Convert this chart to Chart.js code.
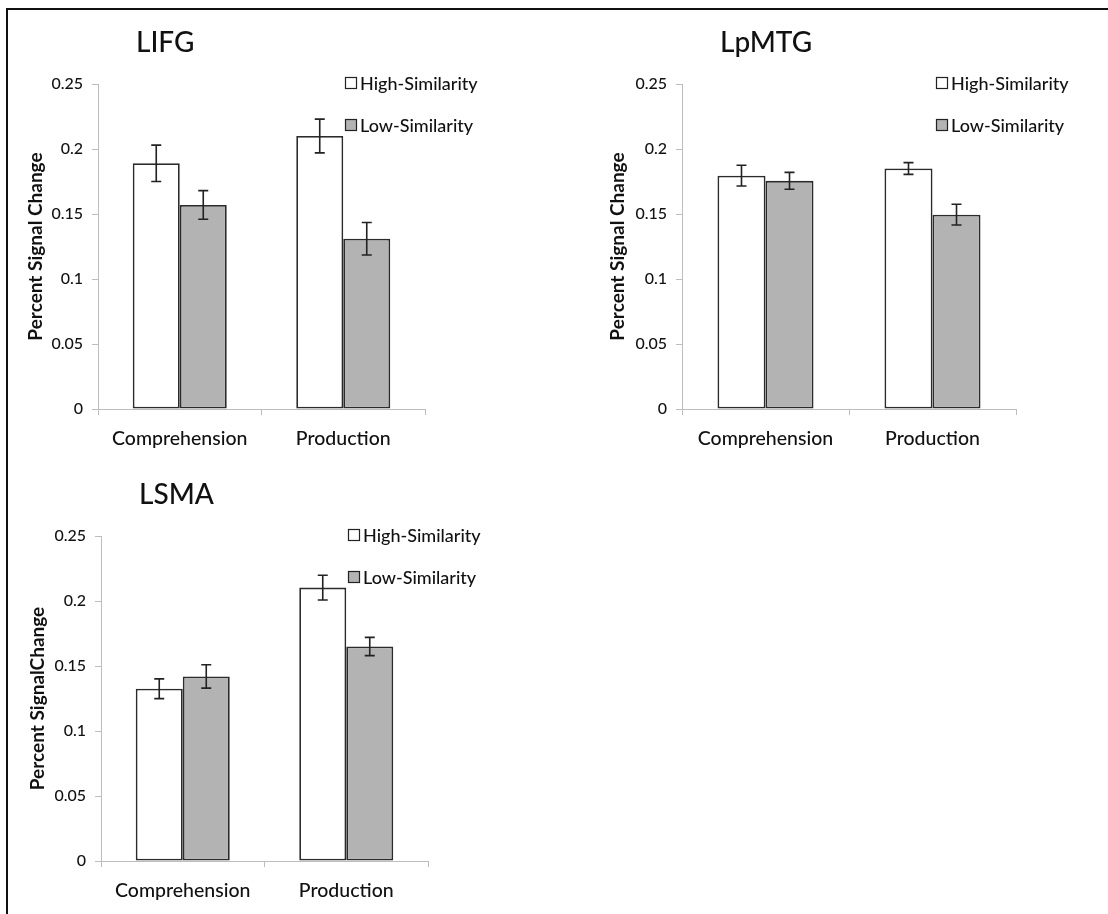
<!DOCTYPE html>
<html>
<head>
<meta charset="UTF-8">
<title>Percent signal change by region</title>
<style type="text/css">
body {
	margin: 0;
	background: #fff;
}
#page {
	position: relative;
	width: 1108px;
	height: 914px;
	overflow: hidden;
}
#frame {
	position: absolute;
	left: 6px;
	top: 8px;
	width: 1200px;
	height: 1000px;
	border-top: 2px solid #111;
	border-left: 2px solid #111;
}
canvas {
	position: absolute;
}
</style>
<script type="text/javascript" src="https://cdn.jsdelivr.net/npm/chart.js@4/dist/chart.umd.min.js"></script>
</head>
<body>
<div id="page">
	<div id="frame"></div>
	<canvas id="chartLIFG" width="554" height="460" style="left:0px; top:0px;"></canvas>
	<canvas id="chartLpMTG" width="554" height="460" style="left:554px; top:0px;"></canvas>
	<canvas id="chartLSMA" width="554" height="462" style="left:0px; top:452px;"></canvas>
</div>
<script type="text/javascript">
	// Datos
	var categories = ['Comprehension', 'Production'];
	var seriesNames = ['High-Similarity', 'Low-Similarity'];
	var yTicks = [0, 0.05, 0.1, 0.15, 0.2, 0.25];

	var lifgHigh = [0.189, 0.210];
	var lifgLow = [0.157, 0.131];
	var lifgHighErr = [0.014, 0.013];
	var lifgLowErr = [0.011, 0.0125];

	var lpmtgHigh = [0.1795, 0.185];
	var lpmtgLow = [0.1755, 0.1495];
	var lpmtgHighErr = [0.008, 0.0045];
	var lpmtgLowErr = [0.0065, 0.008];

	var lsmaHigh = [0.1325, 0.2103];
	var lsmaLow = [0.142, 0.165];
	var lsmaHighErr = [0.0076, 0.0095];
	var lsmaLowErr = [0.009, 0.007];

	var FONT = "Lato, 'Open Sans', sans-serif";
	Chart.defaults.font.family = FONT;
	Chart.defaults.color = '#111';

	// Barras de error a partir de los arrays de cada dataset
	var errorBarsPlugin = {
		id: 'errorBars',
		afterDatasetsDraw: function(chart) {
			var ctx = chart.ctx;
			var yScale = chart.scales.y;
			ctx.save();
			ctx.strokeStyle = '#222';
			ctx.lineWidth = 1.6;
			chart.data.datasets.forEach(function(ds, i) {
				var meta = chart.getDatasetMeta(i);
				meta.data.forEach(function(bar, j) {
					var v = ds.data[j], e = ds.errors[j];
					var yTop = yScale.getPixelForValue(v + e);
					var yBot = yScale.getPixelForValue(v - e);
					var x = bar.x;
					ctx.beginPath();
					ctx.moveTo(x, yTop); ctx.lineTo(x, yBot);
					ctx.moveTo(x - 5, yTop); ctx.lineTo(x + 5, yTop);
					ctx.moveTo(x - 5, yBot); ctx.lineTo(x + 5, yBot);
					ctx.stroke();
				});
			});
			ctx.restore();
		}
	};

	// Titulo y leyenda colocados como en la figura original
	var panelTextPlugin = {
		id: 'panelText',
		afterDraw: function(chart) {
			var ctx = chart.ctx;
			var area = chart.chartArea;
			ctx.save();
			ctx.fillStyle = '#111';
			ctx.textBaseline = 'middle';
			ctx.textAlign = 'left';
			ctx.font = '500 28px ' + FONT;
			ctx.fillText(chart.options.plugins.panelText.title, area.left + 38, area.top - 41);

			ctx.font = '500 18px ' + FONT;
			chart.data.datasets.forEach(function(ds, i) {
				var bx = area.left + area.width - 80;
				var cy = area.top - 1 + i * 42;
				ctx.fillStyle = ds.backgroundColor;
				ctx.fillRect(bx, cy - 6, 12, 12);
				ctx.strokeStyle = '#222';
				ctx.lineWidth = 1.2;
				ctx.strokeRect(bx + 0.5, cy - 5.5, 11, 11);
				ctx.fillStyle = '#111';
				ctx.fillText(ds.label, bx + 15, cy + 1);
			});
			ctx.restore();
		}
	};

	function makePanel(canvasId, title, yTitle, high, low, highErr, lowErr, pad, yWidth, xHeight) {
		var ctx = document.getElementById(canvasId).getContext('2d');
		return new Chart(ctx, {
			type: 'bar',
			data: {
				labels: categories,
				datasets: [{
					label: seriesNames[0],
					data: high,
					errors: highErr,
					backgroundColor: '#ffffff',
					borderColor: '#2b2b2b',
					borderWidth: 1.8,
					borderSkipped: false
				}, {
					label: seriesNames[1],
					data: low,
					errors: lowErr,
					backgroundColor: '#b3b3b3',
					borderColor: '#2b2b2b',
					borderWidth: 1.8,
					borderSkipped: false
				}]
			},
			options: {
				responsive: false,
				animation: false,
				devicePixelRatio: 1,
				layout: { padding: pad },
				datasets: { bar: { barPercentage: 1, categoryPercentage: 0.575 } },
				plugins: {
					legend: { display: false },
					tooltip: { enabled: false },
					panelText: { title: title }
				},
				scales: {
					x: {
						grid: { display: true, offset: true, drawOnChartArea: false, drawTicks: true, tickLength: 6, color: '#bdbdbd' },
						border: { display: true, color: '#bdbdbd', width: 1 },
						ticks: { padding: 12, font: { size: 19.5, weight: '500' }, color: '#111' },
						afterFit: function(s) { s.height = xHeight; }
					},
					y: {
						min: 0,
						max: 0.25,
						afterBuildTicks: function(s) { s.ticks = yTicks.map(function(v) { return { value: v }; }); },
						grid: { display: true, drawOnChartArea: false, drawTicks: true, tickLength: 6, color: '#bdbdbd' },
						border: { display: true, color: '#bdbdbd', width: 1 },
						ticks: {
							padding: 9,
							font: { size: 16, weight: '500' },
							color: '#111',
							callback: function(v) { return String(v); }
						},
						title: {
							display: true,
							text: yTitle,
							font: { size: 19, weight: 'bold' },
							color: '#111',
							padding: { top: 4, bottom: 0 }
						},
						afterFit: function(s) { s.width = yWidth; }
					}
				}
			},
			plugins: [errorBarsPlugin, panelTextPlugin]
		});
	}

	makePanel('chartLIFG', 'LIFG', 'Percent Signal Change', lifgHigh, lifgLow, lifgHighErr, lifgLowErr,
		{ left: 20, top: 84, right: 129, bottom: 0 }, 78, 51);
	makePanel('chartLpMTG', 'LpMTG', 'Percent Signal Change', lpmtgHigh, lpmtgLow, lpmtgHighErr, lpmtgLowErr,
		{ left: 48, top: 84, right: 92, bottom: 0 }, 80, 51);
	makePanel('chartLSMA', 'LSMA', 'Percent SignalChange', lsmaHigh, lsmaLow, lsmaHighErr, lsmaLowErr,
		{ left: 22, top: 84, right: 126, bottom: 0 }, 79, 53);
</script>
</body>
</html>
